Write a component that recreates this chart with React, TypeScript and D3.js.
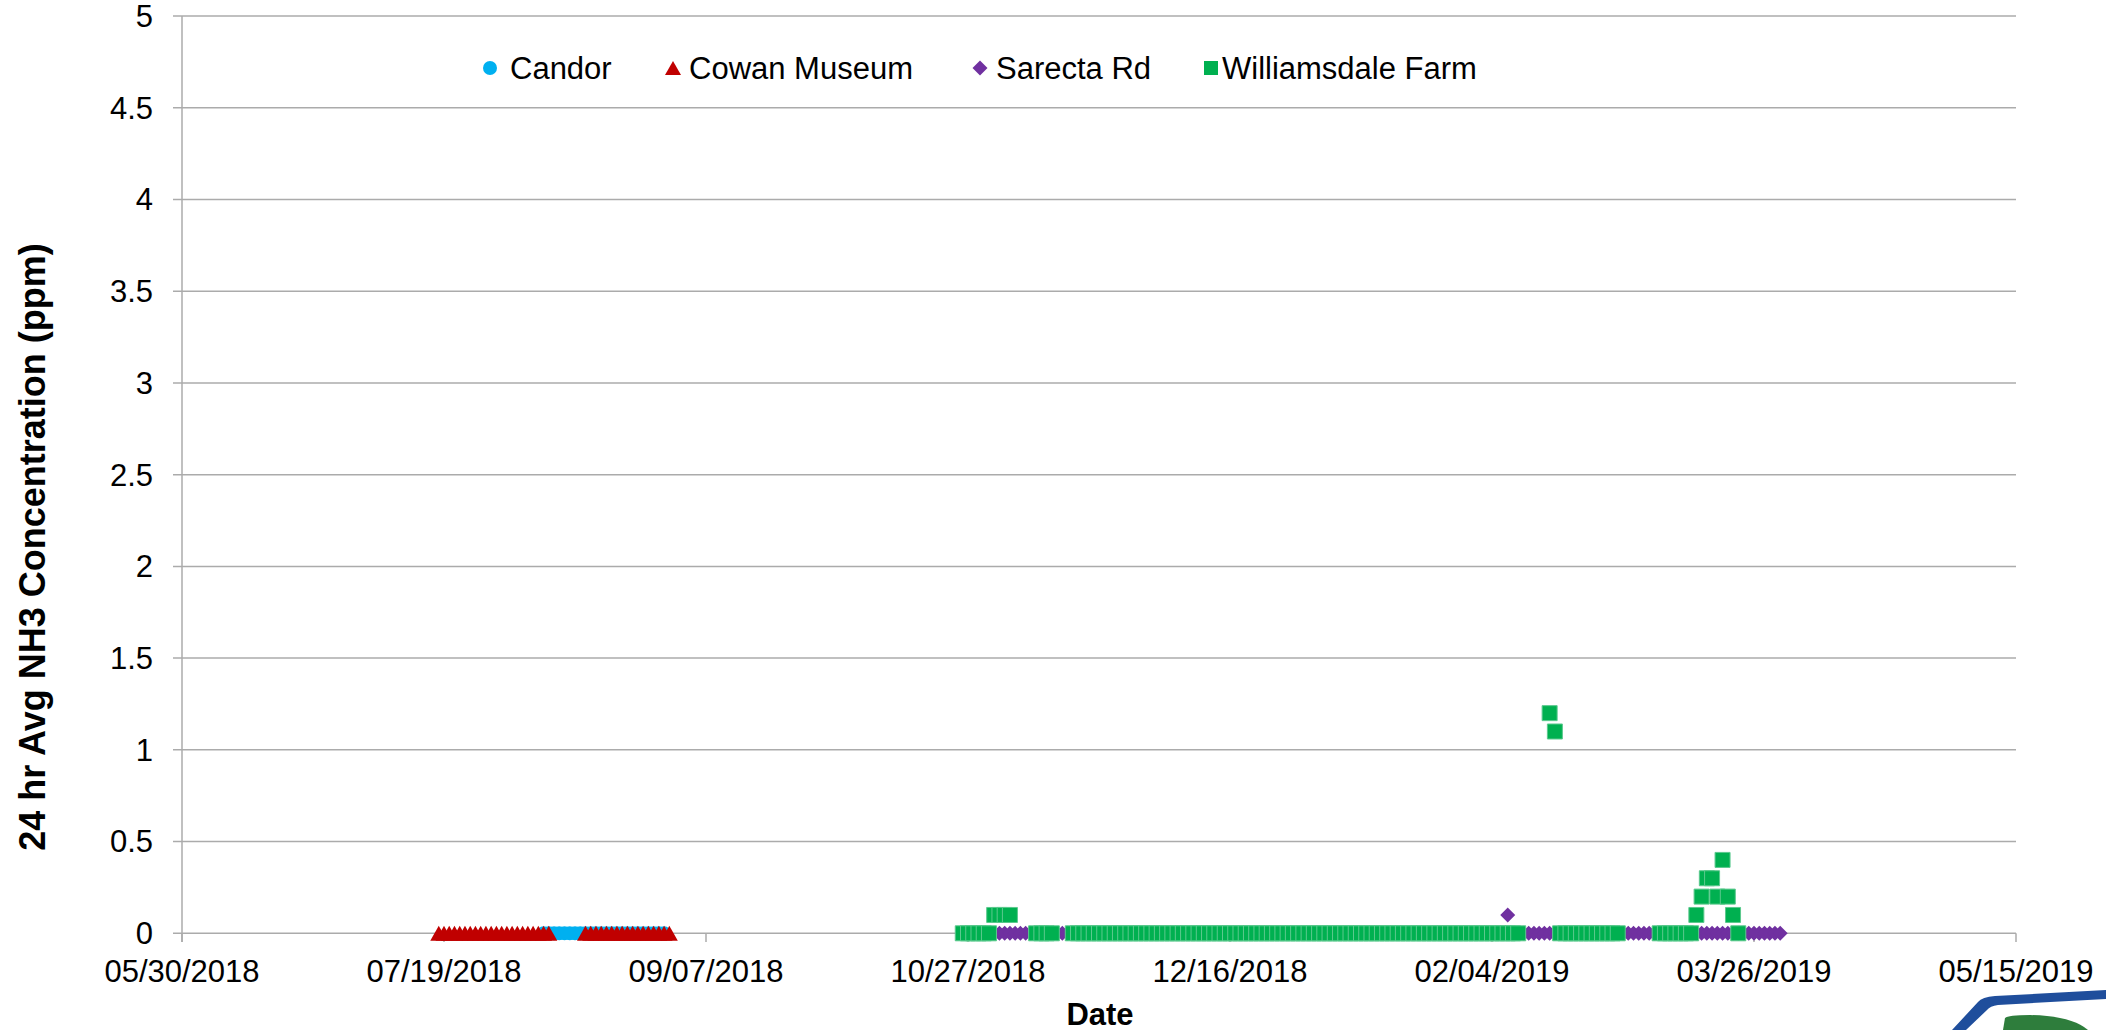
import React, { useEffect, useRef } from 'react';
import * as d3 from 'd3';

// x axis tick labels (every 50 days)
const xTickLabels = ["05/30/2018", "07/19/2018", "09/07/2018", "10/27/2018", "12/16/2018", "02/04/2019", "03/26/2019", "05/15/2019"];
const yTicks = [0, 0.5, 1, 1.5, 2, 2.5, 3, 3.5, 4, 4.5, 5];

const seriesNames = ["Candor", "Cowan Museum", "Sarecta Rd", "Williamsdale Farm"];
const seriesColors = ["#00B0F0", "#C00000", "#7030A0", "#00B050"];

// daily readings, stored as runs of consecutive days: [first day, last day, ppm]
const candorRuns: [string, string, number][] = [
  ["08/07/2018", "08/30/2018", 0],
];
const cowanRuns: [string, string, number][] = [
  ["07/18/2018", "08/08/2018", 0],
  ["08/15/2018", "08/31/2018", 0],
];
const sarectaRuns: [string, string, number][] = [
  ["11/02/2018", "12/11/2018", 0],
  ["12/20/2018", "02/06/2019", 0],
  ["02/07/2019", "02/07/2019", 0.1],
  ["02/08/2019", "03/31/2019", 0],
];
const williamsdaleRuns: [string, string, number][] = [
  ["10/26/2018", "10/31/2018", 0],
  ["11/01/2018", "11/04/2018", 0.1],
  ["11/09/2018", "11/12/2018", 0],
  ["11/16/2018", "02/09/2019", 0],
  ["02/15/2019", "02/15/2019", 1.2],
  ["02/16/2019", "02/16/2019", 1.1],
  ["02/17/2019", "02/28/2019", 0],
  ["03/08/2019", "03/14/2019", 0],
  ["03/15/2019", "03/15/2019", 0.1],
  ["03/16/2019", "03/16/2019", 0.2],
  ["03/17/2019", "03/18/2019", 0.3],
  ["03/19/2019", "03/19/2019", 0.2],
  ["03/20/2019", "03/20/2019", 0.4],
  ["03/21/2019", "03/21/2019", 0.2],
  ["03/22/2019", "03/22/2019", 0.1],
  ["03/23/2019", "03/23/2019", 0],
];

interface Point {
  date: Date;
  value: number;
}

const parseDate = d3.utcParse("%m/%d/%Y");

function expandRuns(runs: [string, string, number][]): Point[] {
  const pts: Point[] = [];
  runs.forEach(([a, b, v]) => {
    const start = parseDate(a)!;
    const end = d3.utcDay.offset(parseDate(b)!, 1);
    d3.utcDay.range(start, end).forEach(d => pts.push({ date: d, value: v }));
  });
  return pts;
}

// marker shapes centred on 0,0
function markerPath(kind: number, s: number): string {
  const h = s / 2;
  if (kind === 0) return `M${-h},0A${h},${h} 0 1,0 ${h},0A${h},${h} 0 1,0 ${-h},0Z`;
  if (kind === 1) return `M0,${-h}L${h + 1},${h}L${-h - 1},${h}Z`;
  if (kind === 2) return `M0,${-h - 1.5}L${h + 1.5},0L0,${h + 1.5}L${-h - 1.5},0Z`;
  return `M${-h},${-h}H${h}V${h}H${-h}Z`;
}

const App: React.FC = () => {
  const svgRef = useRef<SVGSVGElement>(null);

  useEffect(() => {
    if (!svgRef.current) return;
    const svg = d3.select(svgRef.current);
    svg.selectAll("*").remove();

    const font = "'Liberation Sans', Arial, sans-serif";
    const gridColor = "#ababab";

    const xScale = d3.scaleUtc()
      .domain([parseDate(xTickLabels[0])!, parseDate(xTickLabels[xTickLabels.length - 1])!])
      .range([182, 2016]);

    const yScale = d3.scaleLinear()
      .domain([0, 5])
      .range([933.3, 16]);

    // Gridlines + y ticks
    const gy = svg.append("g");
    yTicks.forEach(t => {
      gy.append("line")
        .attr("x1", 173).attr("x2", 2016)
        .attr("y1", yScale(t)).attr("y2", yScale(t))
        .attr("stroke", gridColor)
        .attr("stroke-width", 1.5);
      gy.append("text")
        .attr("x", 153)
        .attr("y", yScale(t))
        .attr("dy", "0.35em")
        .attr("text-anchor", "end")
        .attr("font-family", font)
        .attr("font-size", 31)
        .attr("fill", "#000")
        .text(String(t));
    });

    // y axis line
    svg.append("line")
      .attr("x1", 182).attr("x2", 182)
      .attr("y1", yScale(5)).attr("y2", 942)
      .attr("stroke", gridColor)
      .attr("stroke-width", 1.5);

    // x ticks + labels
    xTickLabels.forEach(lbl => {
      const x = xScale(parseDate(lbl)!);
      svg.append("line")
        .attr("x1", x).attr("x2", x)
        .attr("y1", yScale(0)).attr("y2", 942)
        .attr("stroke", gridColor)
        .attr("stroke-width", 1.5);
      svg.append("text")
        .attr("x", x)
        .attr("y", 982)
        .attr("text-anchor", "middle")
        .attr("font-family", font)
        .attr("font-size", 31)
        .attr("fill", "#000")
        .text(lbl);
    });

    // series, in drawing order
    const allRuns = [candorRuns, cowanRuns, sarectaRuns, williamsdaleRuns];
    const sizes = [14, 15, 12, 15];
    allRuns.forEach((runs, i) => {
      const pts = expandRuns(runs);
      svg.append("g")
        .selectAll("path")
        .data(pts)
        .join("path")
        .attr("transform", d => `translate(${xScale(d.date)},${yScale(d.value)})`)
        .attr("d", markerPath(i, sizes[i]))
        .attr("fill", seriesColors[i])
        .attr("stroke", i === 3 ? "#5cc98e" : "none")
        .attr("stroke-width", i === 3 ? 1 : 0);
    });

    // legend
    const legendItems = [
      { mx: 490, tx: 510 },
      { mx: 673, tx: 689 },
      { mx: 980, tx: 996 },
      { mx: 1211, tx: 1222 },
    ];
    const legendSizes = [14, 14, 12, 14];
    const ly = 68;
    seriesNames.forEach((name, i) => {
      svg.append("path")
        .attr("transform", `translate(${legendItems[i].mx},${ly})`)
        .attr("d", markerPath(i, legendSizes[i]))
        .attr("fill", seriesColors[i]);
      svg.append("text")
        .attr("x", legendItems[i].tx)
        .attr("y", ly)
        .attr("dy", "0.35em")
        .attr("font-family", font)
        .attr("font-size", 31)
        .attr("fill", "#000")
        .text(name);
    });

    // axis titles
    svg.append("text")
      .attr("transform", "translate(45,547) rotate(-90)")
      .attr("text-anchor", "middle")
      .attr("font-family", font)
      .attr("font-weight", "bold")
      .attr("font-size", 36)
      .attr("fill", "#000")
      .text("24 hr Avg NH3 Concentration (ppm)");

    svg.append("text")
      .attr("x", 1100)
      .attr("y", 1025)
      .attr("text-anchor", "middle")
      .attr("font-family", font)
      .attr("font-weight", "bold")
      .attr("font-size", 31)
      .attr("fill", "#000")
      .text("Date");

    // partial logo in the bottom-right corner
    const logo = svg.append("g");
    logo.append("path")
      .attr("d", "M1952,1030 L1978,1002 Q1982,997 1995,996 L2106,990 L2106,999 L1998,1005 Q1990,1006 1987,1010 L1966,1030 Z")
      .attr("fill", "#1f4e9c");
    logo.append("path")
      .attr("d", "M2003,1030 L2005,1018 Q2008,1015 2030,1015 Q2072,1016 2088,1030 Z")
      .attr("fill", "#2e7d3c");
  }, []);

  return (
    <svg
      ref={svgRef}
      width={2106}
      height={1030}
      style={{ position: 'absolute', left: 0, top: 0, background: '#fff' }}
    />
  );
};

export default App;
